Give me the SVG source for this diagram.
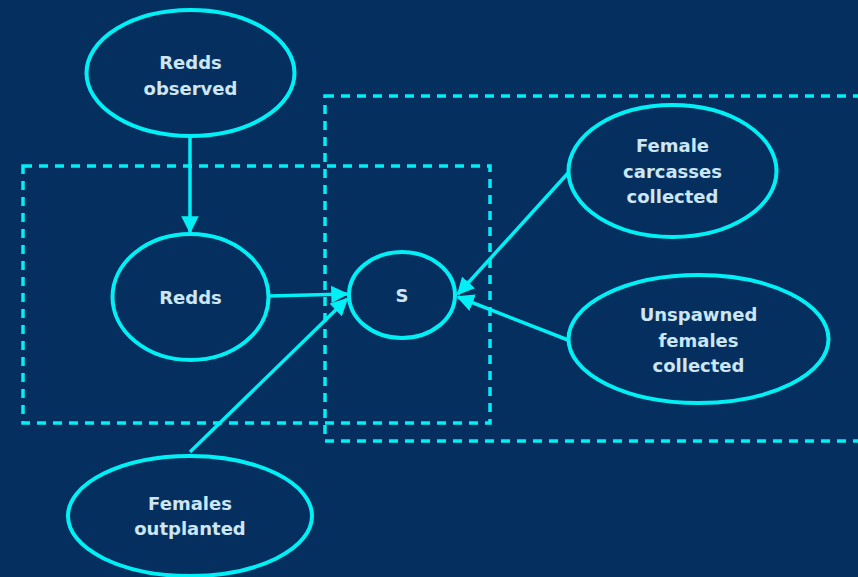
<svg xmlns="http://www.w3.org/2000/svg" width="858" height="577" viewBox="0 0 858 577">
<style>
.bg{fill:#052F5E}
.node ellipse{fill:#052F5E;stroke:#00F0F5;stroke-width:4}
.node text{font-family:"DejaVu Sans","Liberation Sans",sans-serif;font-weight:bold;font-size:18px;fill:#CDE6F4;text-anchor:middle}
.plate{fill:none;stroke:#00F0F5;stroke-width:3.5;stroke-dasharray:9 7}
.edge{stroke:#00F0F5;stroke-width:3.5;fill:none;marker-end:url(#ah)}
</style>
<defs>
<marker id="ah" viewBox="0 0 10 10" refX="9" refY="5" markerWidth="5" markerHeight="5" orient="auto" markerUnits="strokeWidth">
<path d="M0,0 L10,5 L0,10 z" fill="#00F0F5"/>
</marker>
</defs>
<rect class="bg" x="0" y="0" width="858" height="577"/>
<g id="plates">
<rect class="plate" x="23" y="166" width="467" height="257"/>
<rect class="plate" x="325" y="96" width="560" height="345"/>
</g>
<g id="connectors">
<line class="edge" x1="190" y1="137" x2="190" y2="232"/>
<line class="edge" x1="269" y1="296" x2="347" y2="294"/>
<line class="edge" x1="190" y1="452" x2="347" y2="299"/>
<line class="edge" x1="569" y1="172" x2="458" y2="294"/>
<line class="edge" x1="568" y1="340" x2="458" y2="297"/>
</g>
<g id="redds-observed" class="node">
<ellipse cx="190.5" cy="73" rx="104" ry="63"/>
<text x="190.5" y="69">Redds</text>
<text x="190.5" y="95">observed</text>
</g>
<g id="redds" class="node">
<ellipse cx="190.5" cy="297" rx="78" ry="63"/>
<text x="190.5" y="304">Redds</text>
</g>
<g id="s" class="node">
<ellipse cx="402" cy="295" rx="53" ry="43"/>
<text x="402" y="302">S</text>
</g>
<g id="female-carcasses" class="node">
<ellipse cx="672.5" cy="171" rx="104" ry="66"/>
<text x="672.5" y="152">Female</text>
<text x="672.5" y="178">carcasses</text>
<text x="672.5" y="203">collected</text>
</g>
<g id="unspawned" class="node">
<ellipse cx="698.5" cy="339" rx="130" ry="64"/>
<text x="698.5" y="321">Unspawned</text>
<text x="698.5" y="347">females</text>
<text x="698.5" y="372">collected</text>
</g>
<g id="females-outplanted" class="node">
<ellipse cx="190" cy="516" rx="122" ry="60"/>
<text x="190" y="510">Females</text>
<text x="190" y="535">outplanted</text>
</g>
</svg>
